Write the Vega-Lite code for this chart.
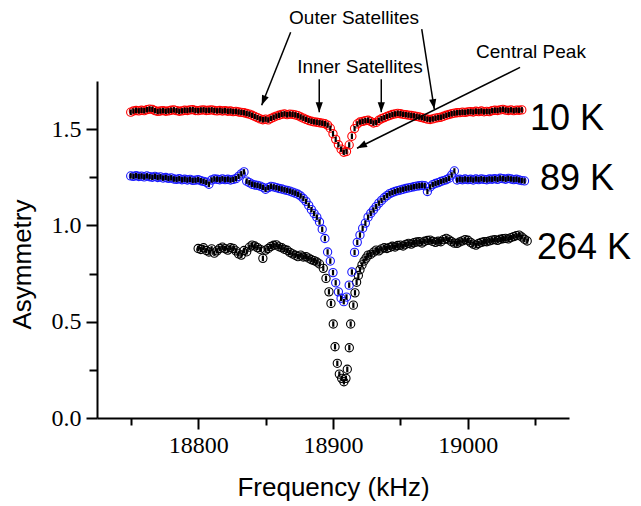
{
  "$schema": "https://vega.github.io/schema/vega-lite/v6.json",
  "width": 472,
  "height": 337,
  "autosize": {"type": "none"},
  "padding": {"left": 97, "top": 81, "right": 72, "bottom": 88},
  "background": "white",
  "config": {"view": {"stroke": null}},
  "datasets": {
    "pts": [
      {"series":"264 K","freq":18800,"asym":0.880},{"series":"264 K","freq":18802,"asym":0.875},{"series":"264 K","freq":18804,"asym":0.884},{"series":"264 K","freq":18806,"asym":0.870},{"series":"264 K","freq":18808,"asym":0.862},{"series":"264 K","freq":18810,"asym":0.878},{"series":"264 K","freq":18812,"asym":0.856},{"series":"264 K","freq":18814,"asym":0.868},{"series":"264 K","freq":18816,"asym":0.880},{"series":"264 K","freq":18818,"asym":0.887},{"series":"264 K","freq":18820,"asym":0.879},{"series":"264 K","freq":18822,"asym":0.872},{"series":"264 K","freq":18824,"asym":0.884},{"series":"264 K","freq":18826,"asym":0.881},{"series":"264 K","freq":18828,"asym":0.868},{"series":"264 K","freq":18830,"asym":0.852},{"series":"264 K","freq":18832,"asym":0.846},{"series":"264 K","freq":18834,"asym":0.870},{"series":"264 K","freq":18836,"asym":0.863},{"series":"264 K","freq":18838,"asym":0.887},{"series":"264 K","freq":18840,"asym":0.898},{"series":"264 K","freq":18842,"asym":0.893},{"series":"264 K","freq":18844,"asym":0.885},{"series":"264 K","freq":18846,"asym":0.876},{"series":"264 K","freq":18848,"asym":0.829},{"series":"264 K","freq":18850,"asym":0.872},{"series":"264 K","freq":18852,"asym":0.880},{"series":"264 K","freq":18854,"asym":0.891},{"series":"264 K","freq":18856,"asym":0.897},{"series":"264 K","freq":18858,"asym":0.899},{"series":"264 K","freq":18860,"asym":0.889},{"series":"264 K","freq":18862,"asym":0.884},{"series":"264 K","freq":18864,"asym":0.876},{"series":"264 K","freq":18866,"asym":0.871},{"series":"264 K","freq":18868,"asym":0.860},{"series":"264 K","freq":18870,"asym":0.852},{"series":"264 K","freq":18872,"asym":0.845},{"series":"264 K","freq":18874,"asym":0.838},{"series":"264 K","freq":18876,"asym":0.846},{"series":"264 K","freq":18878,"asym":0.836},{"series":"264 K","freq":18880,"asym":0.838},{"series":"264 K","freq":18882,"asym":0.830},{"series":"264 K","freq":18884,"asym":0.822},{"series":"264 K","freq":18886,"asym":0.817},{"series":"264 K","freq":18888,"asym":0.810},{"series":"264 K","freq":18890,"asym":0.800},{"series":"264 K","freq":18892.8,"asym":0.777},{"series":"264 K","freq":18894.8,"asym":0.725},{"series":"264 K","freq":18897.0,"asym":0.655},{"series":"264 K","freq":18898.5,"asym":0.595},{"series":"264 K","freq":18900.2,"asym":0.488},{"series":"264 K","freq":18901.5,"asym":0.370},{"series":"264 K","freq":18903.2,"asym":0.284},{"series":"264 K","freq":18904.7,"asym":0.228},{"series":"264 K","freq":18906.4,"asym":0.206},{"series":"264 K","freq":18908.1,"asym":0.188},{"series":"264 K","freq":18909.6,"asym":0.206},{"series":"264 K","freq":18910.6,"asym":0.253},{"series":"264 K","freq":18912.1,"asym":0.365},{"series":"264 K","freq":18913.1,"asym":0.488},{"series":"264 K","freq":18915.1,"asym":0.586},{"series":"264 K","freq":18916.3,"asym":0.650},{"series":"264 K","freq":18917.5,"asym":0.705},{"series":"264 K","freq":18918.8,"asym":0.740},{"series":"264 K","freq":18920.0,"asym":0.770},{"series":"264 K","freq":18921.5,"asym":0.795},{"series":"264 K","freq":18923.0,"asym":0.815},{"series":"264 K","freq":18924.5,"asym":0.830},{"series":"264 K","freq":18926,"asym":0.846},{"series":"264 K","freq":18928,"asym":0.850},{"series":"264 K","freq":18930,"asym":0.861},{"series":"264 K","freq":18932,"asym":0.872},{"series":"264 K","freq":18934,"asym":0.868},{"series":"264 K","freq":18936,"asym":0.878},{"series":"264 K","freq":18938,"asym":0.884},{"series":"264 K","freq":18940,"asym":0.880},{"series":"264 K","freq":18942,"asym":0.886},{"series":"264 K","freq":18944,"asym":0.892},{"series":"264 K","freq":18946,"asym":0.888},{"series":"264 K","freq":18948,"asym":0.896},{"series":"264 K","freq":18950,"asym":0.898},{"series":"264 K","freq":18952,"asym":0.893},{"series":"264 K","freq":18954,"asym":0.902},{"series":"264 K","freq":18956,"asym":0.907},{"series":"264 K","freq":18958,"asym":0.903},{"series":"264 K","freq":18960,"asym":0.910},{"series":"264 K","freq":18962,"asym":0.914},{"series":"264 K","freq":18964,"asym":0.915},{"series":"264 K","freq":18966,"asym":0.909},{"series":"264 K","freq":18968,"asym":0.918},{"series":"264 K","freq":18970,"asym":0.922},{"series":"264 K","freq":18972,"asym":0.924},{"series":"264 K","freq":18974,"asym":0.917},{"series":"264 K","freq":18976,"asym":0.912},{"series":"264 K","freq":18978,"asym":0.918},{"series":"264 K","freq":18980,"asym":0.915},{"series":"264 K","freq":18982,"asym":0.926},{"series":"264 K","freq":18984,"asym":0.933},{"series":"264 K","freq":18986,"asym":0.925},{"series":"264 K","freq":18988,"asym":0.915},{"series":"264 K","freq":18990,"asym":0.908},{"series":"264 K","freq":18992,"asym":0.907},{"series":"264 K","freq":18994,"asym":0.914},{"series":"264 K","freq":18996,"asym":0.920},{"series":"264 K","freq":18998,"asym":0.926},{"series":"264 K","freq":19000,"asym":0.923},{"series":"264 K","freq":19002,"asym":0.912},{"series":"264 K","freq":19004,"asym":0.903},{"series":"264 K","freq":19006,"asym":0.898},{"series":"264 K","freq":19008,"asym":0.906},{"series":"264 K","freq":19010,"asym":0.912},{"series":"264 K","freq":19012,"asym":0.916},{"series":"264 K","freq":19014,"asym":0.915},{"series":"264 K","freq":19016,"asym":0.920},{"series":"264 K","freq":19018,"asym":0.924},{"series":"264 K","freq":19020,"asym":0.926},{"series":"264 K","freq":19022,"asym":0.922},{"series":"264 K","freq":19024,"asym":0.928},{"series":"264 K","freq":19026,"asym":0.931},{"series":"264 K","freq":19028,"asym":0.933},{"series":"264 K","freq":19030,"asym":0.930},{"series":"264 K","freq":19032,"asym":0.937},{"series":"264 K","freq":19034,"asym":0.942},{"series":"264 K","freq":19036,"asym":0.947},{"series":"264 K","freq":19038,"asym":0.950},{"series":"264 K","freq":19040,"asym":0.940},{"series":"264 K","freq":19042,"asym":0.928},{"series":"264 K","freq":19044,"asym":0.919},
      {"series":"89 K","freq":18750,"asym":1.257},{"series":"89 K","freq":18752,"asym":1.255},{"series":"89 K","freq":18754,"asym":1.259},{"series":"89 K","freq":18756,"asym":1.254},{"series":"89 K","freq":18758,"asym":1.256},{"series":"89 K","freq":18760,"asym":1.252},{"series":"89 K","freq":18762,"asym":1.257},{"series":"89 K","freq":18764,"asym":1.253},{"series":"89 K","freq":18766,"asym":1.250},{"series":"89 K","freq":18768,"asym":1.255},{"series":"89 K","freq":18770,"asym":1.249},{"series":"89 K","freq":18772,"asym":1.252},{"series":"89 K","freq":18774,"asym":1.246},{"series":"89 K","freq":18776,"asym":1.249},{"series":"89 K","freq":18778,"asym":1.244},{"series":"89 K","freq":18780,"asym":1.247},{"series":"89 K","freq":18782,"asym":1.241},{"series":"89 K","freq":18784,"asym":1.239},{"series":"89 K","freq":18786,"asym":1.243},{"series":"89 K","freq":18788,"asym":1.237},{"series":"89 K","freq":18790,"asym":1.240},{"series":"89 K","freq":18792,"asym":1.236},{"series":"89 K","freq":18794,"asym":1.239},{"series":"89 K","freq":18796,"asym":1.234},{"series":"89 K","freq":18798,"asym":1.235},{"series":"89 K","freq":18800,"asym":1.238},{"series":"89 K","freq":18802,"asym":1.232},{"series":"89 K","freq":18804,"asym":1.229},{"series":"89 K","freq":18806,"asym":1.224},{"series":"89 K","freq":18808,"asym":1.214},{"series":"89 K","freq":18810,"asym":1.236},{"series":"89 K","freq":18812,"asym":1.241},{"series":"89 K","freq":18814,"asym":1.240},{"series":"89 K","freq":18816,"asym":1.237},{"series":"89 K","freq":18818,"asym":1.242},{"series":"89 K","freq":18820,"asym":1.238},{"series":"89 K","freq":18822,"asym":1.240},{"series":"89 K","freq":18824,"asym":1.236},{"series":"89 K","freq":18826,"asym":1.239},{"series":"89 K","freq":18828,"asym":1.243},{"series":"89 K","freq":18830,"asym":1.255},{"series":"89 K","freq":18832,"asym":1.268},{"series":"89 K","freq":18834,"asym":1.278},{"series":"89 K","freq":18836,"asym":1.230},{"series":"89 K","freq":18838,"asym":1.222},{"series":"89 K","freq":18840,"asym":1.214},{"series":"89 K","freq":18842,"asym":1.210},{"series":"89 K","freq":18844,"asym":1.208},{"series":"89 K","freq":18846,"asym":1.204},{"series":"89 K","freq":18848,"asym":1.198},{"series":"89 K","freq":18850,"asym":1.188},{"series":"89 K","freq":18852,"asym":1.196},{"series":"89 K","freq":18854,"asym":1.203},{"series":"89 K","freq":18856,"asym":1.200},{"series":"89 K","freq":18858,"asym":1.196},{"series":"89 K","freq":18860,"asym":1.192},{"series":"89 K","freq":18862,"asym":1.189},{"series":"89 K","freq":18864,"asym":1.185},{"series":"89 K","freq":18866,"asym":1.182},{"series":"89 K","freq":18868,"asym":1.178},{"series":"89 K","freq":18870,"asym":1.173},{"series":"89 K","freq":18872,"asym":1.168},{"series":"89 K","freq":18874,"asym":1.162},{"series":"89 K","freq":18876,"asym":1.153},{"series":"89 K","freq":18878,"asym":1.140},{"series":"89 K","freq":18880,"asym":1.125},{"series":"89 K","freq":18882,"asym":1.104},{"series":"89 K","freq":18884,"asym":1.082},{"series":"89 K","freq":18886,"asym":1.062},{"series":"89 K","freq":18888,"asym":1.043},{"series":"89 K","freq":18890,"asym":1.018},{"series":"89 K","freq":18892,"asym":0.980},{"series":"89 K","freq":18894,"asym":0.932},{"series":"89 K","freq":18896,"asym":0.862},{"series":"89 K","freq":18898,"asym":0.815},{"series":"89 K","freq":18900,"asym":0.755},{"series":"89 K","freq":18902,"asym":0.702},{"series":"89 K","freq":18904,"asym":0.655},{"series":"89 K","freq":18906,"asym":0.622},{"series":"89 K","freq":18908,"asym":0.604},{"series":"89 K","freq":18910,"asym":0.628},{"series":"89 K","freq":18912,"asym":0.690},{"series":"89 K","freq":18914,"asym":0.758},{"series":"89 K","freq":18916,"asym":0.860},{"series":"89 K","freq":18918,"asym":0.912},{"series":"89 K","freq":18920,"asym":0.950},{"series":"89 K","freq":18922,"asym":0.985},{"series":"89 K","freq":18924,"asym":1.012},{"series":"89 K","freq":18926,"asym":1.043},{"series":"89 K","freq":18928,"asym":1.063},{"series":"89 K","freq":18930,"asym":1.080},{"series":"89 K","freq":18932,"asym":1.098},{"series":"89 K","freq":18934,"asym":1.116},{"series":"89 K","freq":18936,"asym":1.130},{"series":"89 K","freq":18938,"asym":1.144},{"series":"89 K","freq":18940,"asym":1.155},{"series":"89 K","freq":18942,"asym":1.165},{"series":"89 K","freq":18944,"asym":1.171},{"series":"89 K","freq":18946,"asym":1.176},{"series":"89 K","freq":18948,"asym":1.181},{"series":"89 K","freq":18950,"asym":1.184},{"series":"89 K","freq":18952,"asym":1.188},{"series":"89 K","freq":18954,"asym":1.192},{"series":"89 K","freq":18956,"asym":1.195},{"series":"89 K","freq":18958,"asym":1.198},{"series":"89 K","freq":18960,"asym":1.201},{"series":"89 K","freq":18962,"asym":1.204},{"series":"89 K","freq":18964,"asym":1.206},{"series":"89 K","freq":18966,"asym":1.208},{"series":"89 K","freq":18968,"asym":1.206},{"series":"89 K","freq":18970,"asym":1.176},{"series":"89 K","freq":18972,"asym":1.200},{"series":"89 K","freq":18974,"asym":1.212},{"series":"89 K","freq":18976,"asym":1.218},{"series":"89 K","freq":18978,"asym":1.222},{"series":"89 K","freq":18980,"asym":1.228},{"series":"89 K","freq":18982,"asym":1.233},{"series":"89 K","freq":18984,"asym":1.237},{"series":"89 K","freq":18986,"asym":1.245},{"series":"89 K","freq":18988,"asym":1.262},{"series":"89 K","freq":18990,"asym":1.283},{"series":"89 K","freq":18992,"asym":1.236},{"series":"89 K","freq":18994,"asym":1.240},{"series":"89 K","freq":18996,"asym":1.237},{"series":"89 K","freq":18998,"asym":1.241},{"series":"89 K","freq":19000,"asym":1.238},{"series":"89 K","freq":19002,"asym":1.240},{"series":"89 K","freq":19004,"asym":1.236},{"series":"89 K","freq":19006,"asym":1.241},{"series":"89 K","freq":19008,"asym":1.238},{"series":"89 K","freq":19010,"asym":1.242},{"series":"89 K","freq":19012,"asym":1.239},{"series":"89 K","freq":19014,"asym":1.237},{"series":"89 K","freq":19016,"asym":1.241},{"series":"89 K","freq":19018,"asym":1.240},{"series":"89 K","freq":19020,"asym":1.243},{"series":"89 K","freq":19022,"asym":1.239},{"series":"89 K","freq":19024,"asym":1.245},{"series":"89 K","freq":19026,"asym":1.243},{"series":"89 K","freq":19028,"asym":1.240},{"series":"89 K","freq":19030,"asym":1.244},{"series":"89 K","freq":19032,"asym":1.241},{"series":"89 K","freq":19034,"asym":1.238},{"series":"89 K","freq":19036,"asym":1.240},{"series":"89 K","freq":19038,"asym":1.236},{"series":"89 K","freq":19040,"asym":1.233},{"series":"89 K","freq":19042,"asym":1.231},
      {"series":"10 K","freq":18750,"asym":1.588},{"series":"10 K","freq":18752,"asym":1.594},{"series":"10 K","freq":18754,"asym":1.597},{"series":"10 K","freq":18756,"asym":1.595},{"series":"10 K","freq":18758,"asym":1.598},{"series":"10 K","freq":18760,"asym":1.596},{"series":"10 K","freq":18762,"asym":1.601},{"series":"10 K","freq":18764,"asym":1.604},{"series":"10 K","freq":18766,"asym":1.603},{"series":"10 K","freq":18768,"asym":1.596},{"series":"10 K","freq":18770,"asym":1.592},{"series":"10 K","freq":18772,"asym":1.594},{"series":"10 K","freq":18774,"asym":1.596},{"series":"10 K","freq":18776,"asym":1.593},{"series":"10 K","freq":18778,"asym":1.595},{"series":"10 K","freq":18780,"asym":1.598},{"series":"10 K","freq":18782,"asym":1.600},{"series":"10 K","freq":18784,"asym":1.596},{"series":"10 K","freq":18786,"asym":1.593},{"series":"10 K","freq":18788,"asym":1.595},{"series":"10 K","freq":18790,"asym":1.598},{"series":"10 K","freq":18792,"asym":1.597},{"series":"10 K","freq":18794,"asym":1.600},{"series":"10 K","freq":18796,"asym":1.601},{"series":"10 K","freq":18798,"asym":1.597},{"series":"10 K","freq":18800,"asym":1.596},{"series":"10 K","freq":18802,"asym":1.599},{"series":"10 K","freq":18804,"asym":1.600},{"series":"10 K","freq":18806,"asym":1.597},{"series":"10 K","freq":18808,"asym":1.598},{"series":"10 K","freq":18810,"asym":1.600},{"series":"10 K","freq":18812,"asym":1.597},{"series":"10 K","freq":18814,"asym":1.595},{"series":"10 K","freq":18816,"asym":1.597},{"series":"10 K","freq":18818,"asym":1.594},{"series":"10 K","freq":18820,"asym":1.596},{"series":"10 K","freq":18822,"asym":1.593},{"series":"10 K","freq":18824,"asym":1.594},{"series":"10 K","freq":18826,"asym":1.591},{"series":"10 K","freq":18828,"asym":1.592},{"series":"10 K","freq":18830,"asym":1.589},{"series":"10 K","freq":18832,"asym":1.587},{"series":"10 K","freq":18834,"asym":1.585},{"series":"10 K","freq":18836,"asym":1.581},{"series":"10 K","freq":18838,"asym":1.578},{"series":"10 K","freq":18840,"asym":1.572},{"series":"10 K","freq":18842,"asym":1.566},{"series":"10 K","freq":18844,"asym":1.560},{"series":"10 K","freq":18846,"asym":1.553},{"series":"10 K","freq":18848,"asym":1.549},{"series":"10 K","freq":18850,"asym":1.552},{"series":"10 K","freq":18852,"asym":1.548},{"series":"10 K","freq":18854,"asym":1.556},{"series":"10 K","freq":18856,"asym":1.562},{"series":"10 K","freq":18858,"asym":1.568},{"series":"10 K","freq":18860,"asym":1.572},{"series":"10 K","freq":18862,"asym":1.577},{"series":"10 K","freq":18864,"asym":1.579},{"series":"10 K","freq":18866,"asym":1.575},{"series":"10 K","freq":18868,"asym":1.578},{"series":"10 K","freq":18870,"asym":1.577},{"series":"10 K","freq":18872,"asym":1.574},{"series":"10 K","freq":18874,"asym":1.570},{"series":"10 K","freq":18876,"asym":1.563},{"series":"10 K","freq":18878,"asym":1.557},{"series":"10 K","freq":18880,"asym":1.551},{"series":"10 K","freq":18882,"asym":1.545},{"series":"10 K","freq":18884,"asym":1.541},{"series":"10 K","freq":18886,"asym":1.538},{"series":"10 K","freq":18888,"asym":1.536},{"series":"10 K","freq":18890,"asym":1.533},{"series":"10 K","freq":18892,"asym":1.531},{"series":"10 K","freq":18894,"asym":1.528},{"series":"10 K","freq":18896,"asym":1.521},{"series":"10 K","freq":18898,"asym":1.505},{"series":"10 K","freq":18900,"asym":1.476},{"series":"10 K","freq":18902,"asym":1.447},{"series":"10 K","freq":18904,"asym":1.419},{"series":"10 K","freq":18906,"asym":1.396},{"series":"10 K","freq":18908,"asym":1.380},{"series":"10 K","freq":18910,"asym":1.384},{"series":"10 K","freq":18912,"asym":1.418},{"series":"10 K","freq":18914,"asym":1.463},{"series":"10 K","freq":18916,"asym":1.503},{"series":"10 K","freq":18918,"asym":1.527},{"series":"10 K","freq":18920,"asym":1.537},{"series":"10 K","freq":18922,"asym":1.540},{"series":"10 K","freq":18924,"asym":1.544},{"series":"10 K","freq":18926,"asym":1.546},{"series":"10 K","freq":18928,"asym":1.540},{"series":"10 K","freq":18930,"asym":1.532},{"series":"10 K","freq":18932,"asym":1.535},{"series":"10 K","freq":18934,"asym":1.546},{"series":"10 K","freq":18936,"asym":1.554},{"series":"10 K","freq":18938,"asym":1.560},{"series":"10 K","freq":18940,"asym":1.566},{"series":"10 K","freq":18942,"asym":1.571},{"series":"10 K","freq":18944,"asym":1.576},{"series":"10 K","freq":18946,"asym":1.579},{"series":"10 K","freq":18948,"asym":1.582},{"series":"10 K","freq":18950,"asym":1.580},{"series":"10 K","freq":18952,"asym":1.577},{"series":"10 K","freq":18954,"asym":1.575},{"series":"10 K","freq":18956,"asym":1.573},{"series":"10 K","freq":18958,"asym":1.571},{"series":"10 K","freq":18960,"asym":1.569},{"series":"10 K","freq":18962,"asym":1.566},{"series":"10 K","freq":18964,"asym":1.563},{"series":"10 K","freq":18966,"asym":1.560},{"series":"10 K","freq":18968,"asym":1.556},{"series":"10 K","freq":18970,"asym":1.552},{"series":"10 K","freq":18972,"asym":1.550},{"series":"10 K","freq":18974,"asym":1.553},{"series":"10 K","freq":18976,"asym":1.557},{"series":"10 K","freq":18978,"asym":1.560},{"series":"10 K","freq":18980,"asym":1.562},{"series":"10 K","freq":18982,"asym":1.567},{"series":"10 K","freq":18984,"asym":1.572},{"series":"10 K","freq":18986,"asym":1.576},{"series":"10 K","freq":18988,"asym":1.580},{"series":"10 K","freq":18990,"asym":1.583},{"series":"10 K","freq":18992,"asym":1.585},{"series":"10 K","freq":18994,"asym":1.586},{"series":"10 K","freq":18996,"asym":1.588},{"series":"10 K","freq":18998,"asym":1.587},{"series":"10 K","freq":19000,"asym":1.590},{"series":"10 K","freq":19002,"asym":1.591},{"series":"10 K","freq":19004,"asym":1.589},{"series":"10 K","freq":19006,"asym":1.593},{"series":"10 K","freq":19008,"asym":1.591},{"series":"10 K","freq":19010,"asym":1.594},{"series":"10 K","freq":19012,"asym":1.590},{"series":"10 K","freq":19014,"asym":1.592},{"series":"10 K","freq":19016,"asym":1.591},{"series":"10 K","freq":19018,"asym":1.596},{"series":"10 K","freq":19020,"asym":1.598},{"series":"10 K","freq":19022,"asym":1.597},{"series":"10 K","freq":19024,"asym":1.600},{"series":"10 K","freq":19026,"asym":1.603},{"series":"10 K","freq":19028,"asym":1.599},{"series":"10 K","freq":19030,"asym":1.597},{"series":"10 K","freq":19032,"asym":1.600},{"series":"10 K","freq":19034,"asym":1.596},{"series":"10 K","freq":19036,"asym":1.599},{"series":"10 K","freq":19038,"asym":1.598},{"series":"10 K","freq":19040,"asym":1.600}
    ],
    "arrows": [
      {"id":"outerL","freq":18868.6,"asym":2.003,"freq2":18847.1,"asym2":1.624},
      {"id":"outerR","freq":18965.8,"asym":2.019,"freq2":18975.1,"asym2":1.604},
      {"id":"innerL","freq":18889.8,"asym":1.759,"freq2":18889.8,"asym2":1.588},
      {"id":"innerR","freq":18935.8,"asym":1.759,"freq2":18935.8,"asym2":1.588},
      {"id":"central","freq":19038.7,"asym":1.821,"freq2":18917.8,"asym2":1.401}
    ],
    "temps": [
      {"label":"10 K","freq":19046,"asym":1.495},
      {"label":"89 K","freq":19053.5,"asym":1.183},
      {"label":"264 K","freq":19051.3,"asym":0.825}
    ],
    "notes": [
      {"label":"Outer Satellites","freq":18915.6,"asym":2.076},
      {"label":"Inner Satellites","freq":18920.0,"asym":1.821},
      {"label":"Central Peak","freq":19046.8,"asym":1.899}
    ]
  },
  "resolve": {"axis": {"x": "independent", "y": "independent"}},
  "layer": [
    {
      "data": {"name": "pts"},
      "mark": {"type": "point", "shape": "circle", "filled": false, "size": 68, "strokeWidth": 1.1, "opacity": 1},
      "encoding": {
        "x": {"field": "freq", "type": "quantitative",
          "scale": {"domain": [18725, 19075], "nice": false, "zero": false},
          "axis": {"orient": "bottom", "values": [18800, 18900, 19000], "format": "d", "grid": false,
            "tickSize": 11, "tickWidth": 2, "tickColor": "black", "domainWidth": 2, "domainColor": "black",
            "labelFont": "Liberation Serif", "labelFontSize": 24, "labelColor": "black", "labelPadding": 4,
            "title": "Frequency (kHz)", "titleFont": "Liberation Sans", "titleFontSize": 26, "titleFontWeight": "normal",
            "titleColor": "black", "titleY": 69, "titleBaseline": "middle"}},
        "y": {"field": "asym", "type": "quantitative",
          "scale": {"domain": [0, 1.75], "nice": false},
          "axis": {"orient": "left", "values": [0, 0.5, 1, 1.5], "format": ".1f", "grid": false,
            "tickSize": 11, "tickWidth": 2, "tickColor": "black", "domainWidth": 2, "domainColor": "black",
            "labelFont": "Liberation Serif", "labelFontSize": 24, "labelColor": "black", "labelPadding": 5,
            "title": "Asymmetry", "titleFont": "Liberation Sans", "titleFontSize": 26, "titleFontWeight": "normal",
            "titleColor": "black", "titleX": -75, "titleY": 183, "titleAngle": 270, "titleBaseline": "middle", "titleAlign": "center"}},
        "color": {"field": "series", "type": "nominal",
          "scale": {"domain": ["10 K", "89 K", "264 K"], "range": ["#ff0000", "#1a1aff", "#000000"]},
          "legend": null}
      }
    },
    {
      "data": {"name": "pts"},
      "mark": {"type": "point", "shape": "M0,-1L0,1", "filled": false, "size": 30, "strokeWidth": 2.2, "color": "black", "opacity": 1},
      "encoding": {
        "x": {"field": "freq", "type": "quantitative",
          "axis": {"orient": "bottom", "values": [18750, 18850, 18950, 19050], "labels": false, "domain": false, "grid": false,
            "tickSize": 7, "tickWidth": 2, "tickColor": "black", "title": null}},
        "y": {"field": "asym", "type": "quantitative",
          "axis": {"orient": "left", "values": [0.25, 0.75, 1.25], "labels": false, "domain": false, "grid": false,
            "tickSize": 8, "tickWidth": 2, "tickColor": "black", "title": null}}
      }
    },
    {
      "data": {"name": "arrows"},
      "mark": {"type": "rule", "color": "black", "strokeWidth": 1.5},
      "encoding": {
        "x": {"field": "freq", "type": "quantitative", "axis": null},
        "y": {"field": "asym", "type": "quantitative", "axis": null},
        "x2": {"field": "freq2"},
        "y2": {"field": "asym2"}
      }
    },
    {
      "data": {"name": "arrows"},
      "transform": [{"filter": "datum.id === 'outerL'"}],
      "mark": {"type": "point", "shape": "M0,0L-0.36,1L0.36,1Z", "filled": true, "color": "black", "size": 400, "opacity": 1, "angle": 201.7},
      "encoding": {
        "x": {"field": "freq2", "type": "quantitative", "axis": null},
        "y": {"field": "asym2", "type": "quantitative", "axis": null}
      }
    },
    {
      "data": {"name": "arrows"},
      "transform": [{"filter": "datum.id === 'outerR'"}],
      "mark": {"type": "point", "shape": "M0,0L-0.36,1L0.36,1Z", "filled": true, "color": "black", "size": 400, "opacity": 1, "angle": 171},
      "encoding": {
        "x": {"field": "freq2", "type": "quantitative", "axis": null},
        "y": {"field": "asym2", "type": "quantitative", "axis": null}
      }
    },
    {
      "data": {"name": "arrows"},
      "transform": [{"filter": "datum.id === 'innerL' || datum.id === 'innerR'"}],
      "mark": {"type": "point", "shape": "M0,0L-0.36,1L0.36,1Z", "filled": true, "color": "black", "size": 400, "opacity": 1, "angle": 180},
      "encoding": {
        "x": {"field": "freq2", "type": "quantitative", "axis": null},
        "y": {"field": "asym2", "type": "quantitative", "axis": null}
      }
    },
    {
      "data": {"name": "arrows"},
      "transform": [{"filter": "datum.id === 'central'"}],
      "mark": {"type": "point", "shape": "M0,0L-0.36,1L0.36,1Z", "filled": true, "color": "black", "size": 400, "opacity": 1, "angle": 243.6},
      "encoding": {
        "x": {"field": "freq2", "type": "quantitative", "axis": null},
        "y": {"field": "asym2", "type": "quantitative", "axis": null}
      }
    },
    {
      "data": {"name": "temps"},
      "mark": {"type": "text", "font": "Liberation Sans", "fontSize": 36, "align": "left", "baseline": "alphabetic", "color": "black"},
      "encoding": {
        "x": {"field": "freq", "type": "quantitative", "axis": null},
        "y": {"field": "asym", "type": "quantitative", "axis": null},
        "text": {"field": "label"}
      }
    },
    {
      "data": {"name": "notes"},
      "mark": {"type": "text", "font": "Liberation Sans", "fontSize": 19, "align": "center", "baseline": "middle", "color": "black"},
      "encoding": {
        "x": {"field": "freq", "type": "quantitative", "axis": null},
        "y": {"field": "asym", "type": "quantitative", "axis": null},
        "text": {"field": "label"}
      }
    }
  ]
}
